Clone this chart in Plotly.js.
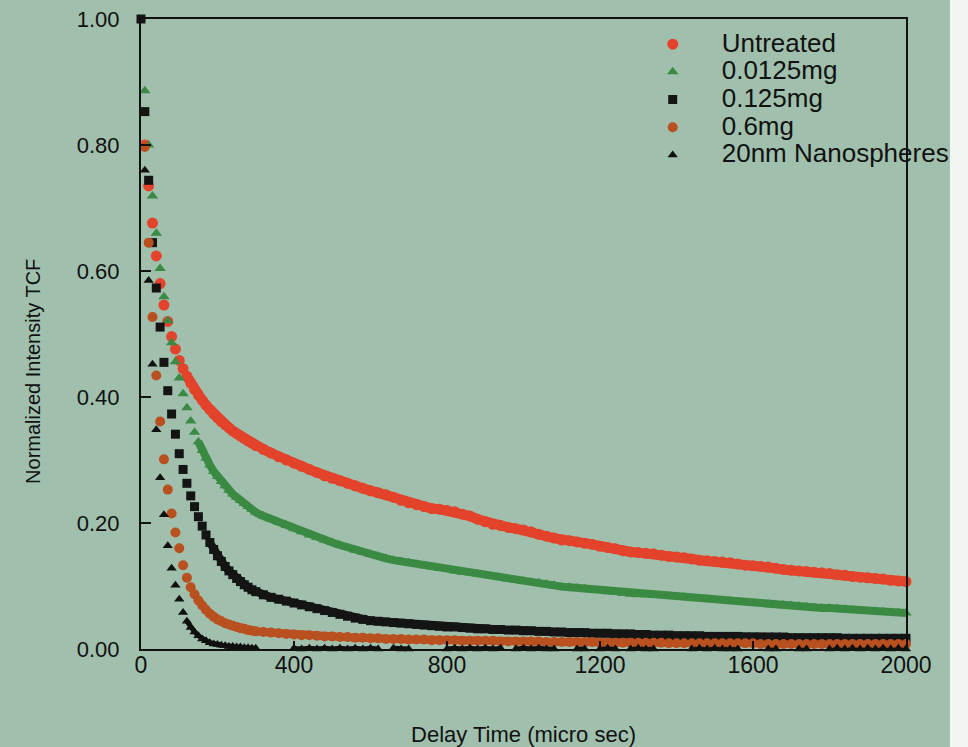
<!DOCTYPE html>
<html>
<head>
<meta charset="utf-8">
<script src="https://cdn.plot.ly/plotly-3.0.1.min.js"></script>
<style>
  html, body { margin: 0; padding: 0; background: #a0c0ad; }
  #chart { width: 968px; height: 747px; }
</style>
</head>
<body>
<div id="chart"></div>
<script>
// Delay time grid (micro sec)
var delay = [0,10,20,30,40,50,60,70,80,90,100,110,120,130,140,150,160,170,180,190,200,210,220,230,240,250,260,270,280,290,300,
  320,340,360,380,400,420,440,460,480,500,520,540,560,580,600,620,640,660,680,700,
  720,740,760,780,800,820,840,860,880,900,920,940,960,980,1000,1020,1040,1060,1080,1100,
  1120,1140,1160,1180,1200,1220,1240,1260,1280,1300,1320,1340,1360,1380,1400,1420,1440,1460,1480,1500,
  1520,1540,1560,1580,1600,1620,1640,1660,1680,1700,1720,1740,1760,1780,1800,1820,1840,1860,1880,1900,
  1920,1940,1960,1980,2000];

var seriesNames = ["Untreated", "0.0125mg", "0.125mg", "0.6mg", "20nm Nanospheres"];

var untreated = [null,.800,.735,.676,.624,.580,.546,.520,.496,.476,.458,.445,.433,.422,.412,.403,.395,.387,.380,.373,.367,.361,.356,.351,.346,.342,.338,.334,.330,.327,.323,
  .317,.311,.305,.300,.295,.290,.285,.280,.275,.271,
  .267,.263,.259,.255,.251,.248,.245,.241,.236,.232,
  .229,.226,.223,.222,.220,.218,.214,.211,.206,.202,
  .198,.196,.193,.191,.189,.186,.182,.179,.176,.173,
  .172,.170,.168,.166,.163,.161,.159,.156,.154,.153,
  .152,.151,.149,.147,.146,.145,.143,.141,.140,.139,
  .138,.137,.135,.133,.132,.131,.130,.128,.126,.125,
  .124,.123,.122,.121,.120,.118,.117,.115,.114,.113,
  .112,.111,.109,.108,.107];

var mg00125 = [null,.886,.800,.719,.660,.604,.559,.521,.486,.456,.430,.405,.383,.362,.344,.329,.315,.303,.292,.282,.274,.266,.259,.252,.246,.241,.236,.231,.226,.222,.217,
  .211,.206,.201,.196,.191,.186,.181,.177,.173,.169,
  .165,.161,.157,.153,.150,.147,.144,.141,.139,.137,
  .134,.132,.130,.128,.126,.124,.122,.121,.119,.117,
  .115,.113,.111,.109,.108,.106,.105,.103,.101,.099,
  .098,.097,.096,.094,.093,.091,.090,.088,.087,.086,
  .086,.085,.085,.084,.083,.082,.081,.080,.079,.078,
  .077,.076,.075,.074,.073,.072,.071,.070,.070,.069,
  .068,.067,.066,.065,.065,.064,.063,.062,.061,.060,
  .060,.059,.058,.058,.057];

var mg0125 = [1.000,.853,.744,.645,.573,.511,.455,.410,.373,.341,.310,.285,.263,.243,.226,.210,.195,.181,.169,.158,.148,.139,.131,.124,.118,.112,.107,.102,.098,.094,.091,
  .086,.082,.079,.076,.073,.070,.067,.064,.061,.058,
  .055,.052,.049,.047,.045,.044,.043,.042,.041,.040,
  .039,.038,.037,.036,.035,.035,.034,.033,.032,.032,
  .031,.031,.030,.030,.029,.029,.028,.028,.027,.027,
  .026,.026,.026,.025,.025,.025,.024,.024,.024,.023,
  .023,.022,.022,.022,.021,.021,.021,.021,.020,.020,
  .020,.020,.020,.019,.019,.019,.019,.019,.019,.018,
  .018,.018,.018,.018,.018,.018,.017,.017,.017,.017,
  .017,.017,.017,.017,.017];

var mg06 = [null,.797,.645,.527,.434,.361,.301,.253,.215,.185,.160,.133,.113,.098,.087,.077,.069,.062,.056,.051,.047,.044,.041,.039,.037,.035,.033,.032,.030,.029,.028,
  .027,.026,.025,.024,.023,.022,.022,.021,.020,.020,
  .019,.019,.018,.018,.017,.017,.016,.016,.016,.015,
  .015,.015,.014,.014,.014,.014,.013,.013,.013,.013,
  .013,.012,.012,.012,.012,.012,.012,.011,.011,.011,
  .011,.011,.011,.011,.010,.010,.010,.010,.010,.010,
  .010,.010,.010,.009,.009,.009,.009,.009,.009,.009,
  .009,.009,.009,.009,.009,.008,.008,.008,.008,.008,
  .008,.008,.008,.008,.008,.008,.008,.008,.008,.008,
  .008,.008,.008,.008,.008];

var nano20 = [null,.760,.585,.452,.348,.272,.213,.164,.128,.101,.079,.058,.044,.034,.027,.021,.016,.013,.010,.008,.007,.006,.005,.004,.004,.003,.003,.002,.002,.001,.001,
  null,null,null,null,.001,0,.001,0,.001,0,
  .001,0,.001,0,.001,0,null,.001,0,0,
  null,null,null,null,0,.001,0,.001,0,.001,
  0,.001,null,0,.001,0,.001,0,0,null,
  null,0,0,null,0,.001,0,null,0,.001,
  0,0,null,null,null,null,0,.001,0,.001,
  0,0,0,null,null,null,0,0,null,null,
  0,0,null,null,0,.001,0,.001,0,.001,
  0,.001,0,.001,0];

var xTicks = [0, 400, 800, 1200, 1600, 2000];
var yTicks = [0, 0.2, 0.4, 0.6, 0.8, 1.0];

var font = 'Liberation Sans, Arial, Helvetica, sans-serif';

var styles = [
  { y: untreated, symbol: 'circle',      size: 11, color: '#e3432b', band: 10, from: 12 },
  { y: mg00125,   symbol: 'triangle-up', size: 10, color: '#3b8a43', band: 8,  from: 15 },
  { y: mg0125,    symbol: 'square',      size: 9,  color: '#141414', band: 8,  from: 18 },
  { y: mg06,      symbol: 'circle',      size: 10, color: '#b9501f', band: 8,  from: 15 },
  { y: nano20,    symbol: 'triangle-up', size: 9,  color: '#101010', band: 5,  from: 12 }
];

var data = [];
// dense tails: points merge into a continuous band
styles.forEach(function (s) {
  data.push({
    type: 'scatter', mode: 'lines', showlegend: false, hoverinfo: 'skip',
    x: delay.slice(s.from), y: s.y.slice(s.from), connectgaps: false,
    line: { color: s.color, width: s.band }
  });
});
styles.forEach(function (s, i) {
  data.push({
    type: 'scatter', mode: 'markers',
    name: '<span style="font-size:26px">' + seriesNames[i] + '</span>',
    x: delay, y: s.y, cliponaxis: false,
    marker: { symbol: s.symbol, size: s.size, color: s.color, line: { width: 0 } }
  });
});

var layout = {
  width: 968, height: 747,
  paper_bgcolor: '#a0c0ad', plot_bgcolor: '#a0c0ad',
  margin: { l: 141, r: 62, t: 19, b: 98 },
  font: { family: font, color: '#111' },
  showlegend: true,
  legend: {
    x: 0.631, y: 0.99, xanchor: 'left', yanchor: 'top',
    bgcolor: 'rgba(0,0,0,0)', borderwidth: 0,
    font: { family: font, size: 19, color: '#111' },
    itemwidth: 88
  },
  xaxis: {
    range: [0, 2000], tickvals: xTicks, ticktext: xTicks.map(String),
    showline: true, linecolor: '#111', linewidth: 2, mirror: true,
    ticks: 'inside', ticklen: 8, tickwidth: 2, tickcolor: '#111',
    showgrid: false, zeroline: false,
    tickfont: { family: font, size: 23, color: '#111' },
    ticklabelstandoff: -6,
    title: { text: 'Delay Time (micro sec)', font: { family: font, size: 22, color: '#111' }, standoff: 52 }
  },
  yaxis: {
    range: [0, 1.0], tickvals: yTicks, tickformat: '.2f',
    showline: true, linecolor: '#111', linewidth: 2, mirror: true,
    ticks: 'inside', ticklen: 10, tickwidth: 2, tickcolor: '#111',
    showgrid: false, zeroline: false,
    tickfont: { family: font, size: 22, color: '#111' },
    ticklabelstandoff: 15
  },
  annotations: [
    { text: 'Normalized Intensity TCF', xref: 'paper', yref: 'paper', x: -0.141, y: 0.44,
      xanchor: 'center', yanchor: 'middle', textangle: -90, showarrow: false,
      font: { family: font, size: 20, color: '#111' } }
  ],
  shapes: [
    { type: 'rect', xref: 'paper', yref: 'paper', x0: 1.0575, x1: 1.1, y0: -0.2, y1: 1.1,
      fillcolor: '#f3f5f3', line: { width: 0 }, layer: 'below' }
  ]
};

Plotly.newPlot('chart', data, layout, { displayModeBar: false, staticPlot: true });
</script>
</body>
</html>
